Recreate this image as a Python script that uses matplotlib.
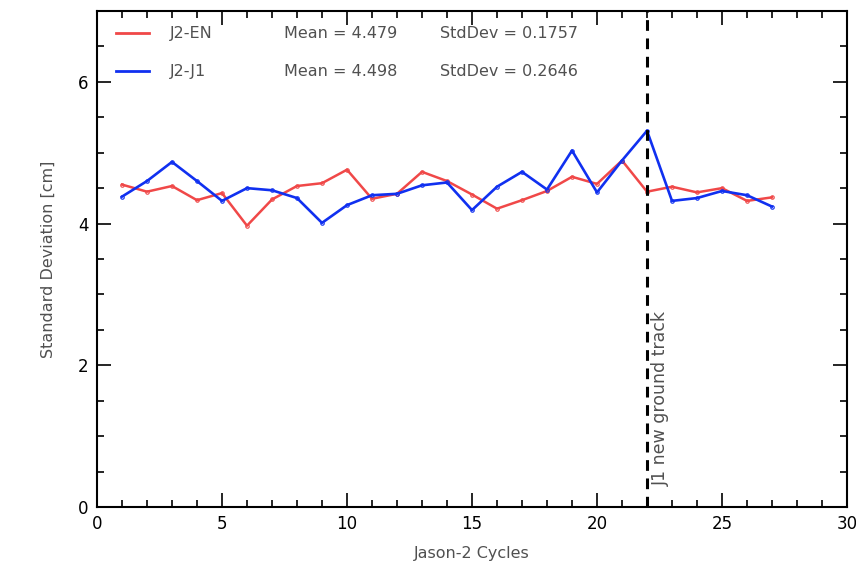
import numpy as np
import matplotlib
matplotlib.use("Agg")
import matplotlib.pyplot as plt
from matplotlib.ticker import MultipleLocator

cycles = list(range(1, 28))
j2_en = [4.55, 4.45, 4.53, 4.33, 4.43, 3.97, 4.34, 4.53, 4.57, 4.76,
         4.35, 4.42, 4.73, 4.60, 4.41, 4.21, 4.33, 4.46, 4.66, 4.56,
         4.89, 4.45, 4.52, 4.44, 4.50, 4.32, 4.37]
j2_j1 = [4.38, 4.60, 4.87, 4.60, 4.32, 4.50, 4.47, 4.36, 4.01, 4.26,
         4.40, 4.42, 4.54, 4.58, 4.19, 4.52, 4.73, 4.48, 5.03, 4.44,
         4.89, 5.31, 4.32, 4.36, 4.46, 4.40, 4.24]
series_names = ["J2-EN", "J2-J1"]
means = ["4.479", "4.498"]
stds = ["0.1757", "0.2646"]
event_cycle = 22
event_label = "J1 new ground track"

red = "#f04848"
blue = "#1030f0"
txt = "#505050"

fig = plt.figure(figsize=(8.56, 5.66), dpi=100)
ax = fig.add_axes([0.1133, 0.1042, 0.8762, 0.8764])

ax.plot(cycles, j2_en, color=red, lw=1.8, marker="o", ms=2.5, mfc="none", mec=red, mew=0.8)
ax.plot(cycles, j2_j1, color=blue, lw=1.9, marker="o", ms=2.5, mfc="none", mec=blue, mew=0.8)

ax.axvline(event_cycle, color="black", lw=2.2, ls=(0, (3.5, 2.5)))
ax.text(event_cycle + 0.55, 0.3, event_label, rotation=90, ha="center", va="bottom",
        fontsize=12.5, color=txt)

ax.set_xlim(0, 30)
ax.set_ylim(0, 7)
ax.xaxis.set_major_locator(MultipleLocator(5))
ax.xaxis.set_minor_locator(MultipleLocator(1))
ax.yaxis.set_major_locator(MultipleLocator(2))
ax.yaxis.set_minor_locator(MultipleLocator(0.5))
ax.tick_params(which="both", direction="in", top=True, right=True, width=1.2,
               labelsize=12, pad=6)
ax.tick_params(which="major", length=10)
ax.tick_params(which="minor", length=5)
for s in ax.spines.values():
    s.set_linewidth(1.5)

ax.set_xlabel("Jason-2 Cycles", fontsize=11.5, color=txt, labelpad=9)
ax.set_ylabel("Standard Deviation [cm]", fontsize=11.5, color=txt, labelpad=16)

# legend rows drawn as text in axes coordinates
rows_y = [0.955, 0.878]
for name, m, s, c, y in zip(series_names, means, stds, [red, blue], rows_y):
    ax.plot([0.025, 0.07], [y, y], color=c, lw=2, transform=ax.transAxes)
    ax.text(0.097, y, name, transform=ax.transAxes, va="center", fontsize=11.5, color=txt)
    ax.text(0.25, y, "Mean = " + m, transform=ax.transAxes, va="center", fontsize=11.5, color=txt)
    ax.text(0.457, y, "StdDev = " + s, transform=ax.transAxes, va="center", fontsize=11.5, color=txt)

fig.savefig("out.png", dpi=100)
